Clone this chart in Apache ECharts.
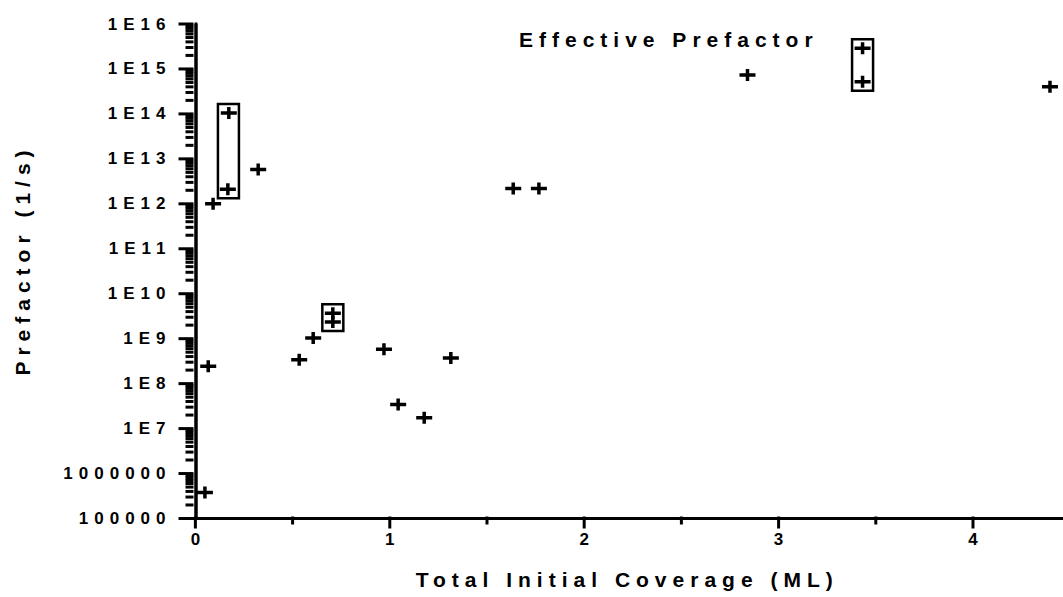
<!DOCTYPE html>
<html>
<head>
<meta charset="utf-8">
<script src="https://cdn.jsdelivr.net/npm/echarts@6/dist/echarts.min.js"></script>
<style>
html, body { margin: 0; padding: 0; background: #fff; }
#chart { width: 1063px; height: 597px; }
#chart text { letter-spacing: 6px; }
</style>
</head>
<body>
<div id="chart"></div>
<script>
// Measured prefactors vs. total initial coverage
const coverage = [0.049, 0.066, 0.091, 0.172, 0.167, 0.323, 0.534, 0.606, 0.707, 0.707,
                  0.970, 1.043, 1.177, 1.314, 1.635, 1.767, 2.840, 3.432, 3.432, 4.396];
const prefactor = [3.8e5, 2.45e8, 1.0e12, 1.05e14, 2.1e12, 5.8e12, 3.4e8, 1.03e9, 3.7e9, 2.35e9,
                   5.8e8, 3.45e7, 1.74e7, 3.7e8, 2.2e12, 2.2e12, 7.3e14, 2.9e15, 5.2e14, 4.0e14];

// Replicate measurements enclosed in a box (coverage, lowest and highest prefactor)
const boxCoverage = [0.170, 0.707, 3.432];
const boxLow = [2.1e12, 2.35e9, 5.2e14];
const boxHigh = [1.05e14, 3.7e9, 2.9e15];

// Axis ticks
const xTickValues = [0, 1, 2, 3, 4];
const xTickLabels = ['0', '1', '2', '3', '4'];
const xMinorTicks = [0.5, 1.5, 2.5, 3.5];
const yTickValues = [1e5, 1e6, 1e7, 1e8, 1e9, 1e10, 1e11, 1e12, 1e13, 1e14, 1e15, 1e16];
const yTickLabels = ['100000', '1000000', '1E7', '1E8', '1E9', '1E10', '1E11', '1E12', '1E13', '1E14', '1E15', '1E16'];
const yMinorTicks = [];
for (let e = 5; e < 16; e++) {
  for (let m = 2; m <= 9; m++) yMinorTicks.push(m * Math.pow(10, e));
}

const FONT = "'Liberation Sans', Arial, sans-serif";
const X_MIN = -0.02, X_MAX = 4.463;
const Y_MIN = 1e5, Y_MAX = 1e16;

const plusPath = 'path://M0,4.25H6.25V0H9.75V4.25H16V7.75H9.75V12H6.25V7.75H0Z';

// Tick table: [x, y, length, 0 = down from x axis / 1 = left of y axis]
const tickRows = [].concat(
  xTickValues.map(v => [v, Y_MIN, 10, 0]),
  xMinorTicks.map(v => [v, Y_MIN, 6, 0]),
  yTickValues.map(v => [X_MIN, v, 13, 1]),
  yMinorTicks.map(v => [X_MIN, v, 6, 1])
);

const chart = echarts.init(document.getElementById('chart'), null, { renderer: 'svg' });

chart.setOption({
  animation: false,
  backgroundColor: '#fff',
  title: {
    text: 'Effective Prefactor',
    left: 519, top: 29, padding: 0,
    textStyle: { fontFamily: FONT, fontSize: 21, fontWeight: 'bold', color: '#000' }
  },
  graphic: [{
    type: 'text',
    x: 22, y: 260,
    rotation: Math.PI / 2,
    style: {
      text: 'Prefactor (1/s)',
      align: 'center', verticalAlign: 'middle',
      font: 'bold 21px ' + FONT,
      fill: '#000'
    }
  }],
  grid: { left: 191.5, right: 0, top: 24, bottom: 78.5, containLabel: false },
  xAxis: [{
    type: 'value', min: X_MIN, max: X_MAX, position: 'bottom',
    name: 'Total Initial Coverage (ML)', nameLocation: 'middle', nameGap: 50,
    nameTextStyle: { fontFamily: FONT, fontSize: 21, fontWeight: 'bold', color: '#000' },
    axisLine: { onZero: false, lineStyle: { color: '#000', width: 3 } },
    axisTick: { show: false },
    axisLabel: {
      customValues: xTickValues, margin: 12, padding: [0, 0, 0, 6],
      fontFamily: FONT, fontSize: 17, fontWeight: 'bold', color: '#000',
      formatter: v => xTickLabels[xTickValues.indexOf(Math.round(v))]
    },
    splitLine: { show: false }
  }],
  yAxis: [{
    type: 'log', logBase: 10, min: Y_MIN, max: Y_MAX, position: 'left',
    axisLine: { show: true, lineStyle: { color: '#000', width: 3.5 } },
    axisTick: { show: false },
    axisLabel: {
      customValues: yTickValues, margin: 20,
      fontFamily: FONT, fontSize: 17, fontWeight: 'bold', color: '#000',
      formatter: v => yTickLabels[Math.round(Math.log10(v)) - 5]
    },
    splitLine: { show: false }
  }],
  series: [{
    // outward tick marks, placed through the axes' scales
    type: 'custom',
    xAxisIndex: 0, yAxisIndex: 0,
    silent: true,
    clip: false,
    dimensions: ['x', 'y', 'len', 'dir'],
    data: tickRows,
    encode: { x: 0, y: 1 },
    renderItem: (params, api) => {
      const p = api.coord([api.value(0), api.value(1)]);
      const len = api.value(2);
      const w = 3;
      const shape = api.value(3) === 1
        ? { x: p[0] - len, y: p[1] - w / 2, width: len + 2, height: w }
        : { x: p[0] - w / 2, y: p[1] - 2, width: w, height: len + 2 };
      return { type: 'rect', shape, style: { fill: '#000' } };
    },
    z: 5
  }, {
    type: 'custom',
    xAxisIndex: 0, yAxisIndex: 0,
    data: boxCoverage.map((x, i) => [x, boxLow[i], boxHigh[i]]),
    encode: { x: 0, y: [1, 2] },
    renderItem: (params, api) => {
      const top = api.coord([api.value(0), api.value(2)]);
      const bot = api.coord([api.value(0), api.value(1)]);
      return {
        type: 'rect',
        shape: { x: top[0] - 10.5, y: top[1] - 9, width: 21, height: bot[1] - top[1] + 18 },
        style: { fill: 'none', stroke: '#000', lineWidth: 2.5 }
      };
    },
    z: 2
  }, {
    type: 'scatter',
    xAxisIndex: 0, yAxisIndex: 0,
    data: coverage.map((x, i) => [x, prefactor[i]]),
    symbol: plusPath,
    symbolSize: [16, 12],
    itemStyle: { color: '#000', opacity: 1 },
    z: 3
  }]
});
</script>
</body>
</html>
